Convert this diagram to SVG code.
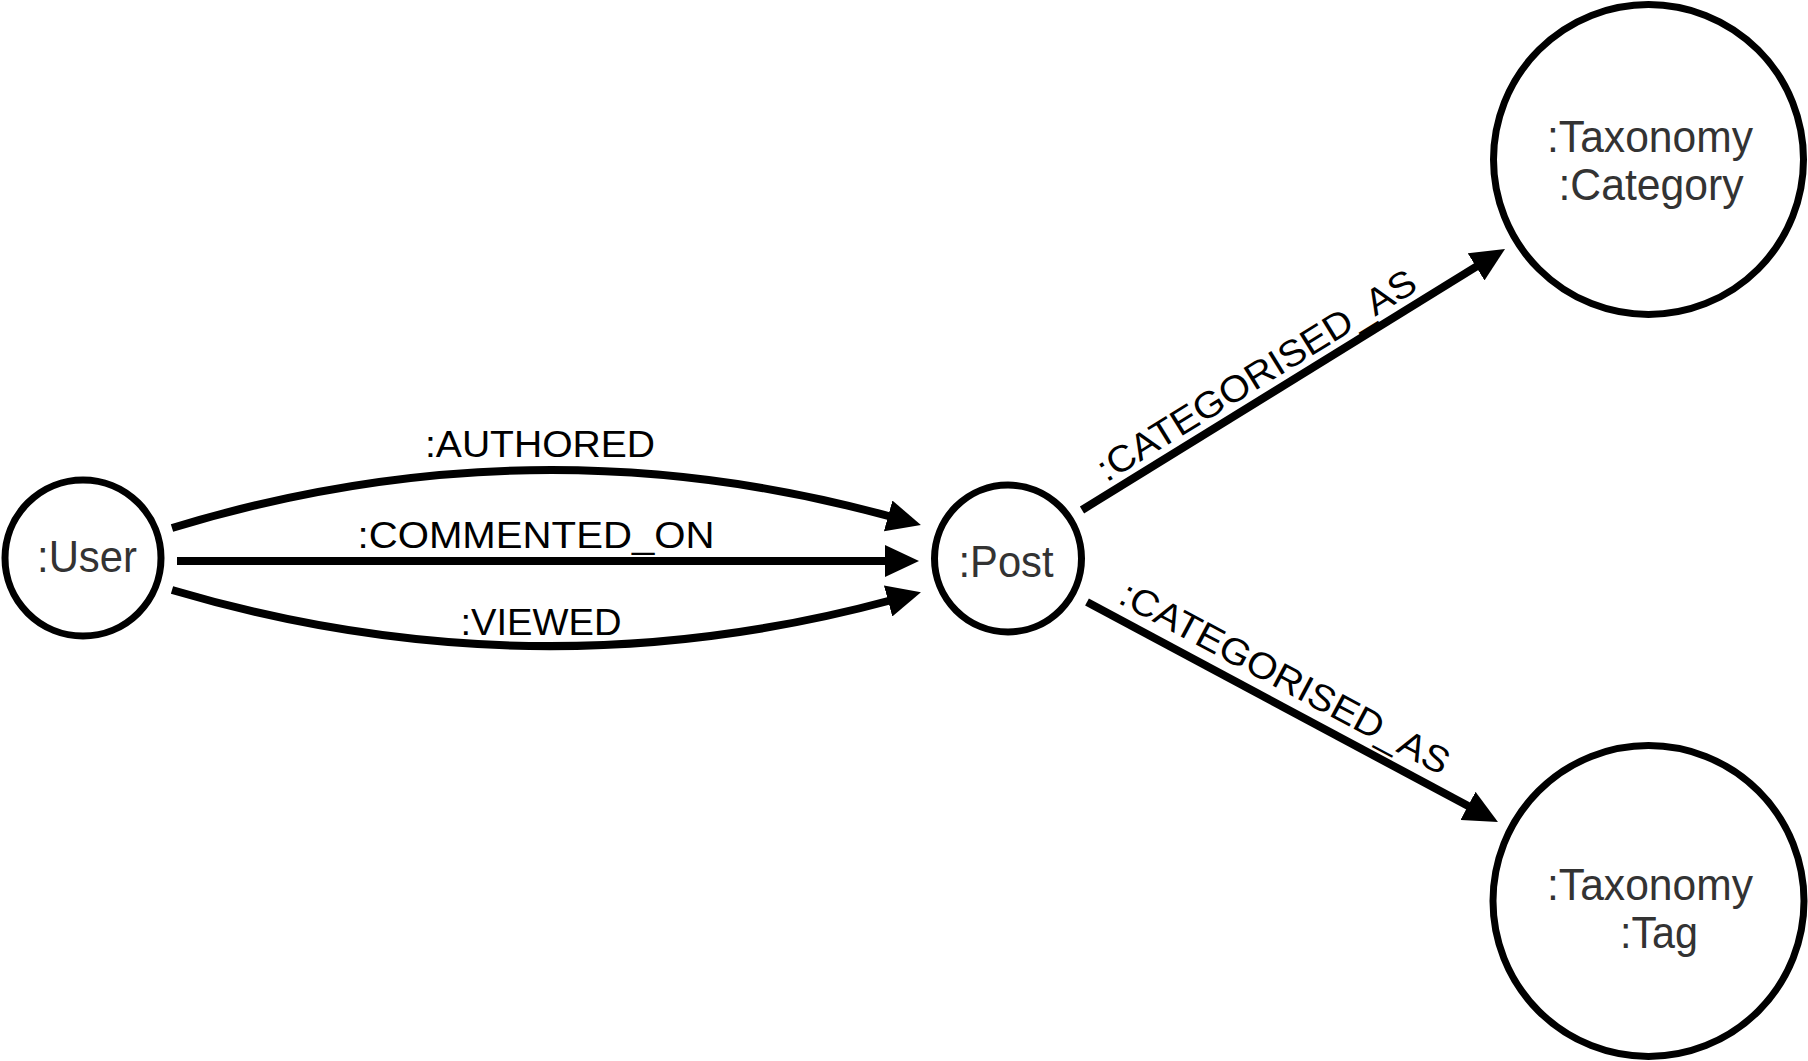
<svg xmlns="http://www.w3.org/2000/svg" width="1808" height="1061" viewBox="0 0 1808 1061">
<style>
.node{fill:#fff;stroke:#000;stroke-width:7}
.nt{font-family:"Liberation Sans",Arial,sans-serif;font-size:45px;fill:#333;text-anchor:middle}
.edge{fill:none;stroke:#000;stroke-width:8}
.et{font-family:"Liberation Sans",Arial,sans-serif;font-size:37px;fill:#000;text-anchor:middle}
</style>
<defs>
<marker id="arr" viewBox="0 0 34 32" refX="4" refY="16" markerWidth="34" markerHeight="32" markerUnits="userSpaceOnUse" orient="auto">
<path d="M0,0 L34,16 L0,32 z" fill="#000"/>
</marker>
</defs>
<rect width="1808" height="1061" fill="#fff"/>
<g id="connectors">
<path class="edge" d="M172,528 Q533,418 892,517" marker-end="url(#arr)"/>
<path class="edge" d="M177,561 L889,561" marker-end="url(#arr)"/>
<path class="edge" d="M172,590 Q533,697 892,600" marker-end="url(#arr)"/>
<path class="edge" d="M1082,510 L1479.5,264.7" marker-end="url(#arr)"/>
<path class="edge" d="M1087,602 L1471.5,807.8" marker-end="url(#arr)"/>
<text class="et" x="540" y="457" textLength="230" lengthAdjust="spacingAndGlyphs">:AUTHORED</text>
<text class="et" x="536" y="548" textLength="357" lengthAdjust="spacingAndGlyphs">:COMMENTED_ON</text>
<text class="et" x="541" y="635" textLength="161" lengthAdjust="spacingAndGlyphs">:VIEWED</text>
<text class="et" transform="translate(1263,386) rotate(-31.7)" textLength="368" lengthAdjust="spacingAndGlyphs">:CATEGORISED_AS</text>
<text class="et" transform="translate(1279,689) rotate(28.1)" textLength="368" lengthAdjust="spacingAndGlyphs">:CATEGORISED_AS</text>
</g>
<g id="user">
<circle class="node" cx="83" cy="558" r="78"/>
<text class="nt" x="87" y="572" textLength="100" lengthAdjust="spacingAndGlyphs">:User</text>
</g>
<g id="post">
<circle class="node" cx="1008" cy="558.5" r="73.5"/>
<text class="nt" x="1006" y="577" textLength="95" lengthAdjust="spacingAndGlyphs">:Post</text>
</g>
<g id="category">
<circle class="node" cx="1648.5" cy="159.5" r="155"/>
<text class="nt" x="1650" y="152" textLength="206" lengthAdjust="spacingAndGlyphs">:Taxonomy</text>
<text class="nt" x="1651" y="200" textLength="185" lengthAdjust="spacingAndGlyphs">:Category</text>
</g>
<g id="tag">
<circle class="node" cx="1648.5" cy="901" r="155.5"/>
<text class="nt" x="1650" y="900" textLength="206" lengthAdjust="spacingAndGlyphs">:Taxonomy</text>
<text class="nt" x="1659" y="948" textLength="78" lengthAdjust="spacingAndGlyphs">:Tag</text>
</g>
</svg>
